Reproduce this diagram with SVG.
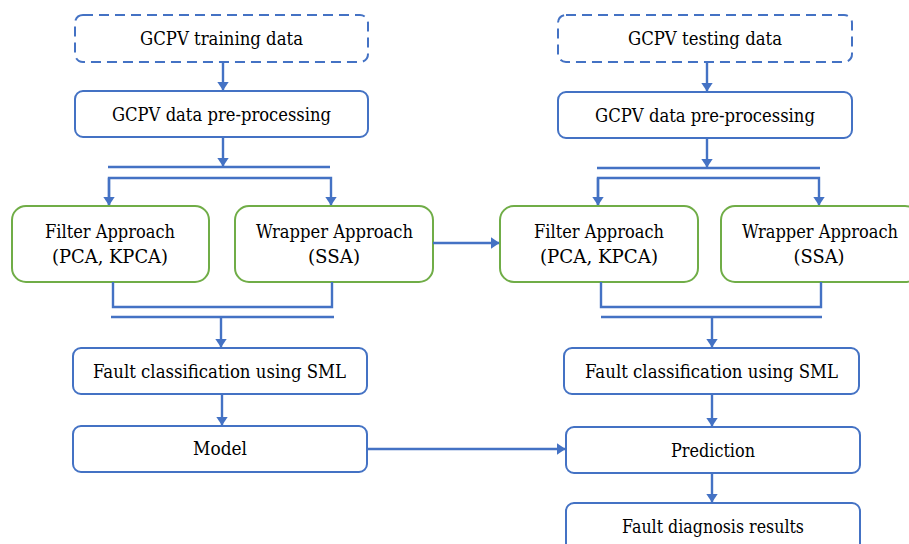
<svg xmlns="http://www.w3.org/2000/svg" width="909" height="544" viewBox="0 0 909 544">
  <defs>
    <marker id="arrow" viewBox="0 0 9 12" refX="8.5" refY="6" markerWidth="9" markerHeight="12" orient="auto" markerUnits="userSpaceOnUse">
      <path d="M0,0 L9,6 L0,12 z" fill="#4472c4"/>
    </marker>
    <style>
      .box { fill: #ffffff; stroke: #4472c4; stroke-width: 2; }
      .dash { stroke-dasharray: 10 6; }
      .green { stroke: #70ad47; }
      .lbl { font-family: "DejaVu Serif", "Liberation Serif", serif; font-size: 18px; fill: #000000; text-anchor: middle; }
      .conn { fill: none; stroke: #4472c4; stroke-width: 2.4; }
      .arr { marker-end: url(#arrow); }
    </style>
  </defs>

  <!-- training branch -->
  <g id="train-data">
    <rect class="box dash" x="75" y="15" width="293" height="47" rx="8"/>
    <text class="lbl" x="221.5" y="45" textLength="163" lengthAdjust="spacingAndGlyphs">GCPV training data</text>
  </g>
  <g id="train-prep">
    <rect class="box" x="75" y="91" width="293" height="46" rx="8"/>
    <text class="lbl" x="221.5" y="121" textLength="219" lengthAdjust="spacingAndGlyphs">GCPV data pre-processing</text>
  </g>
  <g id="train-filter">
    <rect class="box green" x="12" y="206" width="197" height="76" rx="14"/>
    <text class="lbl" x="110" y="238" textLength="130" lengthAdjust="spacingAndGlyphs">Filter Approach</text>
    <text class="lbl" x="110" y="263" textLength="116" lengthAdjust="spacingAndGlyphs">(PCA, KPCA)</text>
  </g>
  <g id="train-wrapper">
    <rect class="box green" x="235" y="206" width="198" height="76" rx="14"/>
    <text class="lbl" x="334.5" y="238" textLength="157" lengthAdjust="spacingAndGlyphs">Wrapper Approach</text>
    <text class="lbl" x="334" y="263" textLength="52" lengthAdjust="spacingAndGlyphs">(SSA)</text>
  </g>
  <g id="train-classify">
    <rect class="box" x="73" y="348" width="294" height="46" rx="8"/>
    <text class="lbl" x="219.5" y="378" textLength="253" lengthAdjust="spacingAndGlyphs">Fault classification using SML</text>
  </g>
  <g id="model">
    <rect class="box" x="73" y="426" width="294" height="46" rx="8"/>
    <text class="lbl" x="220" y="455" textLength="54" lengthAdjust="spacingAndGlyphs">Model</text>
  </g>

  <!-- testing branch -->
  <g id="test-data">
    <rect class="box dash" x="558" y="15" width="294" height="47" rx="8"/>
    <text class="lbl" x="705" y="45" textLength="154" lengthAdjust="spacingAndGlyphs">GCPV testing data</text>
  </g>
  <g id="test-prep">
    <rect class="box" x="558" y="92" width="294" height="46" rx="8"/>
    <text class="lbl" x="705" y="122" textLength="220" lengthAdjust="spacingAndGlyphs">GCPV data pre-processing</text>
  </g>
  <g id="test-filter">
    <rect class="box green" x="500" y="206" width="198" height="76" rx="14"/>
    <text class="lbl" x="599" y="238" textLength="130" lengthAdjust="spacingAndGlyphs">Filter Approach</text>
    <text class="lbl" x="599" y="263" textLength="118" lengthAdjust="spacingAndGlyphs">(PCA, KPCA)</text>
  </g>
  <g id="test-wrapper">
    <rect class="box green" x="721" y="206" width="198" height="76" rx="14"/>
    <text class="lbl" x="820" y="238" textLength="156" lengthAdjust="spacingAndGlyphs">Wrapper Approach</text>
    <text class="lbl" x="819" y="263" textLength="51" lengthAdjust="spacingAndGlyphs">(SSA)</text>
  </g>
  <g id="test-classify">
    <rect class="box" x="564" y="348" width="295" height="46" rx="8"/>
    <text class="lbl" x="711.5" y="378" textLength="253" lengthAdjust="spacingAndGlyphs">Fault classification using SML</text>
  </g>
  <g id="prediction">
    <rect class="box" x="566" y="427" width="294" height="46" rx="8"/>
    <text class="lbl" x="713" y="457" textLength="84" lengthAdjust="spacingAndGlyphs">Prediction</text>
  </g>
  <g id="results">
    <rect class="box" x="566" y="503" width="294" height="50" rx="8"/>
    <text class="lbl" x="713" y="533" textLength="182" lengthAdjust="spacingAndGlyphs">Fault diagnosis results</text>
  </g>

  <!-- connectors -->
  <g id="connectors">
    <!-- training side -->
    <line class="conn arr" x1="223" y1="62" x2="223" y2="90"/>
    <line class="conn arr" x1="223" y1="137" x2="223" y2="166"/>
    <line class="conn" x1="108" y1="167" x2="330" y2="167"/>
    <path class="conn arr" d="M109,205 V178 H331 V205"/>
    <line class="conn arr" x1="109" y1="178" x2="109" y2="205"/>
    <path class="conn" d="M113,282 V307 H332 V282"/>
    <line class="conn" x1="111" y1="317" x2="334" y2="317"/>
    <line class="conn arr" x1="221" y1="317" x2="221" y2="347"/>
    <line class="conn arr" x1="222" y1="394" x2="222" y2="425"/>

    <!-- cross links -->
    <line class="conn arr" x1="433" y1="243" x2="499" y2="243"/>
    <line class="conn arr" x1="367" y1="449" x2="565" y2="449"/>

    <!-- testing side -->
    <line class="conn arr" x1="707" y1="62" x2="707" y2="91"/>
    <line class="conn arr" x1="707" y1="138" x2="707" y2="167"/>
    <line class="conn" x1="597" y1="168" x2="820" y2="168"/>
    <path class="conn arr" d="M598,205 V178 H819 V205"/>
    <line class="conn arr" x1="598" y1="178" x2="598" y2="205"/>
    <path class="conn" d="M601,282 V307 H821 V282"/>
    <line class="conn" x1="601" y1="317" x2="822" y2="317"/>
    <line class="conn arr" x1="712" y1="317" x2="712" y2="347"/>
    <line class="conn arr" x1="712" y1="394" x2="712" y2="426"/>
    <line class="conn arr" x1="712" y1="473" x2="712" y2="502"/>
  </g>
</svg>
